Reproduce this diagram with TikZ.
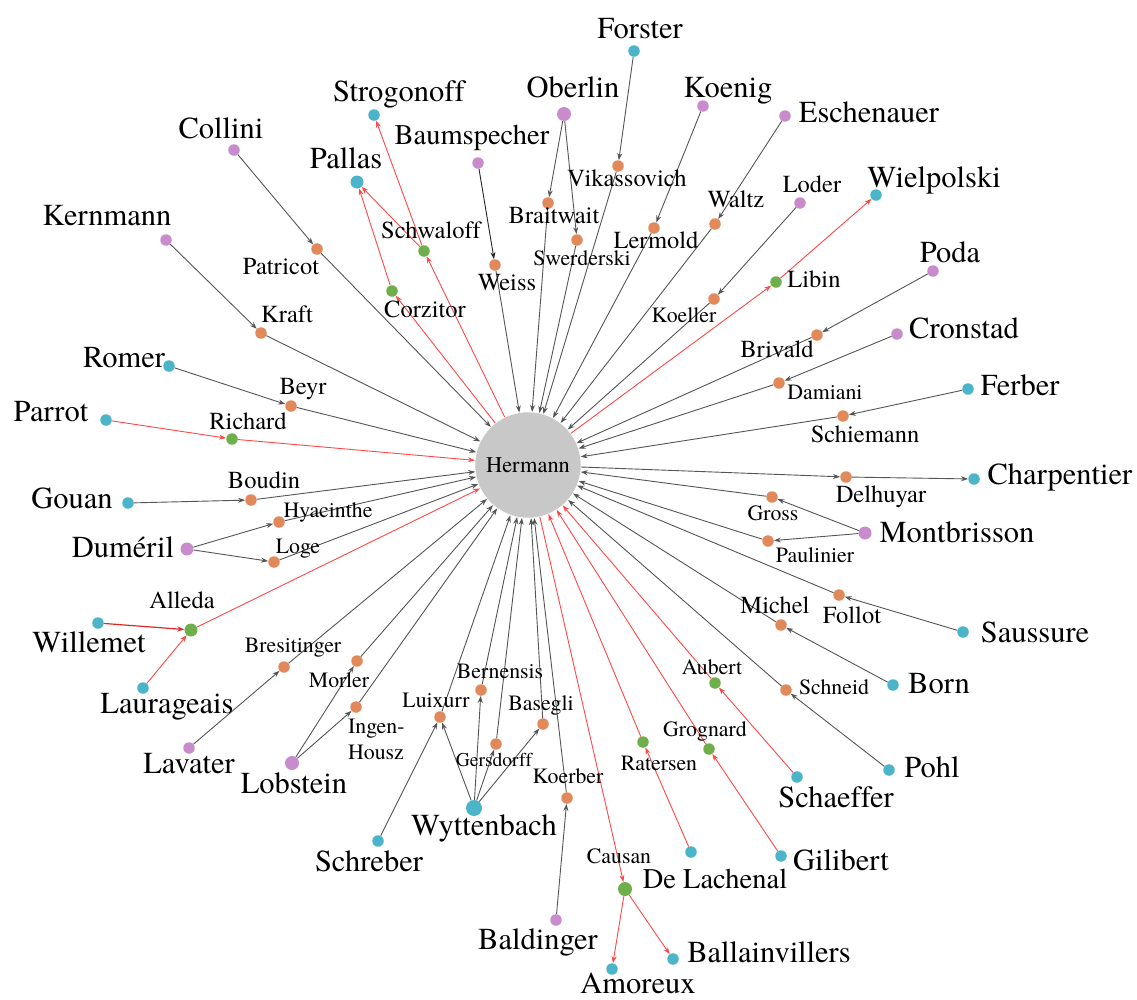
\documentclass[tikz,border=0pt]{standalone}
\usepackage{fontspec}
\setmainfont{texgyretermes-regular.otf}
\newfontfamily\lserif{texgyretermes-regular.otf}[Ligatures=NoCommon]
\usetikzlibrary{arrows.meta}
\definecolor{cteal}{HTML}{4BB4C8}
\definecolor{cpurple}{HTML}{C88CCD}
\definecolor{corange}{HTML}{E1895A}
\definecolor{cgreen}{HTML}{6EAF4B}
\definecolor{chub}{HTML}{C8C8C8}
\definecolor{edgegray}{HTML}{555555}
\definecolor{edgered}{HTML}{FF4848}
\definecolor{edgedred}{HTML}{E02828}
\tikzset{
  dot/.style={circle, inner sep=0pt, minimum size=11.5pt, draw=none},
  tdot/.style={dot, fill=cteal},
  pdot/.style={dot, fill=cpurple},
  odot/.style={dot, fill=corange},
  gdot/.style={dot, fill=cgreen},
  hub/.style={circle, inner sep=0pt, minimum size=106pt, fill=chub, draw=white, line width=0.5pt, font=\lserif\fontsize{22.4pt}{26pt}\selectfont},
  bigl/.style={anchor=base, inner sep=0pt, font=\lserif\fontsize{30.5pt}{34pt}\selectfont},
  bigs/.style={anchor=base, inner sep=0pt, font=\lserif\fontsize{28.5pt}{32pt}\selectfont},
  medl/.style={anchor=base, inner sep=0pt, font=\lserif\fontsize{24.5pt}{28pt}\selectfont},
  smal/.style={anchor=base, inner sep=0pt, font=\lserif\fontsize{21.8pt}{25pt}\selectfont},
  tinl/.style={anchor=base, inner sep=0pt, font=\lserif\fontsize{19.5pt}{23pt}\selectfont},
  ge/.style={draw=edgegray, line width=0.9pt, -{Stealth[length=7pt,width=5pt]}},
  re/.style={draw=edgered, line width=0.9pt, -{Stealth[length=7pt,width=5pt]}},
}
\begin{document}
\begin{tikzpicture}[x=1pt,y=-1pt]
\useasboundingbox[fill=white] (0,0) rectangle (1137,999);

% hub
\node[hub] (hermann) at (528,465) {Hermann};

% teal nodes
\node[tdot] (strogonoff) at (374,115) {};
\node[tdot, minimum size=13pt] (pallas) at (357,182) {};
\node[tdot] (forster) at (634,51) {};
\node[tdot] (wielpolski) at (876,195) {};
\node[tdot] (ferber) at (968,389) {};
\node[tdot] (romer) at (169,366) {};
\node[tdot] (parrot) at (106,420) {};
\node[tdot] (gouan) at (128,503) {};
\node[tdot] (charpentier) at (974,479) {};
\node[tdot] (willemet) at (98,623) {};
\node[tdot] (saussure) at (963,632) {};
\node[tdot] (laurageais) at (143,688) {};
\node[tdot] (born) at (893,685) {};
\node[tdot] (pohl) at (889,770) {};
\node[tdot] (schaeffer) at (797,777) {};
\node[tdot] (schreber) at (378,841) {};
\node[tdot, minimum size=16pt] (wyttenbach) at (474,808) {};
\node[tdot] (delachenal) at (691,852) {};
\node[tdot] (gilibert) at (781,856) {};
\node[tdot] (amoreux) at (612,969) {};
\node[tdot] (ballainvillers) at (673,959) {};

% purple nodes
\node[pdot] (collini) at (234,150) {};
\node[pdot] (kernmann) at (166,240) {};
\node[pdot, minimum size=14pt] (oberlin) at (564,114) {};
\node[pdot] (koenig) at (703,106) {};
\node[pdot] (baumspecher) at (478,163) {};
\node[pdot] (eschenauer) at (785,116) {};
\node[pdot] (loder) at (800,203) {};
\node[pdot] (poda) at (933,271) {};
\node[pdot] (cronstad) at (897,334) {};
\node[pdot, minimum size=13pt] (dumeril) at (187,549) {};
\node[pdot, minimum size=13pt] (montbrisson) at (865,533) {};
\node[pdot] (lavater) at (189,748) {};
\node[pdot, minimum size=14pt] (lobstein) at (292,763) {};
\node[pdot] (baldinger) at (556,920) {};

% orange nodes
\node[odot] (patricot) at (317,249) {};
\node[odot] (kraft) at (261,333) {};
\node[odot] (vikassovich) at (618,166) {};
\node[odot] (braitwait) at (548,203) {};
\node[odot] (swerderski) at (577,240) {};
\node[odot] (lermold) at (654,228) {};
\node[odot] (waltz) at (715,224) {};
\node[odot] (weiss) at (495,265) {};
\node[odot] (koeller) at (714,299) {};
\node[odot] (brivald) at (817,335) {};
\node[odot] (damiani) at (779,383) {};
\node[odot] (schiemann) at (843,416) {};
\node[odot] (delhuyar) at (846,477) {};
\node[odot] (gross) at (772,497) {};
\node[odot] (paulinier) at (768,541) {};
\node[odot] (follot) at (839,595) {};
\node[odot] (michel) at (781,625) {};
\node[odot] (schneid) at (786,690) {};
\node[odot] (beyr) at (291,406) {};
\node[odot] (boudin) at (251,500) {};
\node[odot] (hyacinthe) at (279,522) {};
\node[odot] (loge) at (274,562) {};
\node[odot] (bresitinger) at (284,667) {};
\node[odot] (morler) at (357,661) {};
\node[odot] (ingen) at (356,707) {};
\node[odot] (luixurr) at (440,717) {};
\node[odot] (bernensis) at (481,690) {};
\node[odot] (basegli) at (543,724) {};
\node[odot] (gersdorff) at (496,744) {};
\node[odot] (koerber) at (567,798) {};

% green nodes
\node[gdot] (schwaloff) at (424,251) {};
\node[gdot] (corzitor) at (392,291) {};
\node[gdot] (libin) at (776,282) {};
\node[gdot] (richard) at (232,439) {};
\node[gdot, minimum size=13pt] (alleda) at (191,630) {};
\node[gdot] (aubert) at (715,683) {};
\node[gdot] (grognard) at (709,749) {};
\node[gdot] (ratersen) at (643,742) {};
\node[gdot, minimum size=14pt] (causan) at (625,889) {};

% gray edges
\draw[ge] (collini) -- (patricot);
\draw[ge] (patricot) -- (hermann);
\draw[ge] (kernmann) -- (kraft);
\draw[ge] (kraft) -- (hermann);
\draw[ge] (romer) -- (beyr);
\draw[ge] (beyr) -- (hermann);
\draw[ge] (gouan) -- (boudin);
\draw[ge] (boudin) -- (hermann);
\draw[ge] (dumeril) -- (hyacinthe);
\draw[ge] (dumeril) -- (loge);
\draw[ge] (hyacinthe) -- (hermann);
\draw[ge] (loge) -- (hermann);
\draw[ge] (lavater) -- (bresitinger);
\draw[ge] (bresitinger) -- (hermann);
\draw[ge] (lobstein) -- (morler);
\draw[ge] (lobstein) -- (ingen);
\draw[ge] (morler) -- (hermann);
\draw[ge] (ingen) -- (hermann);
\draw[ge] (schreber) -- (luixurr);
\draw[ge] (wyttenbach) -- (luixurr);
\draw[ge] (luixurr) -- (hermann);
\draw[ge] (wyttenbach) -- (bernensis);
\draw[ge] (bernensis) -- (hermann);
\draw[ge] (wyttenbach) -- (gersdorff);
\draw[ge] (gersdorff) -- (hermann);
\draw[ge] (wyttenbach) -- (basegli);
\draw[ge] (basegli) -- (hermann);
\draw[ge] (baldinger) -- (koerber);
\draw[ge] (koerber) -- (hermann);
\draw[ge] (born) -- (michel);
\draw[ge] (michel) -- (hermann);
\draw[ge] (pohl) -- (schneid);
\draw[ge] (schneid) -- (hermann);
\draw[ge] (saussure) -- (follot);
\draw[ge] (follot) -- (hermann);
\draw[ge] (montbrisson) -- (gross);
\draw[ge] (montbrisson) -- (paulinier);
\draw[ge] (gross) -- (hermann);
\draw[ge] (paulinier) -- (hermann);
\draw[ge] (hermann) -- (delhuyar);
\draw[ge] (delhuyar) -- (charpentier);
\draw[ge] (ferber) -- (schiemann);
\draw[ge] (schiemann) -- (hermann);
\draw[ge] (cronstad) -- (damiani);
\draw[ge] (damiani) -- (hermann);
\draw[ge] (poda) -- (brivald);
\draw[ge] (brivald) -- (hermann);
\draw[ge] (loder) -- (koeller);
\draw[ge] (koeller) -- (hermann);
\draw[ge] (eschenauer) -- (waltz);
\draw[ge] (waltz) -- (hermann);
\draw[ge] (koenig) -- (lermold);
\draw[ge] (lermold) -- (hermann);
\draw[ge] (forster) -- (vikassovich);
\draw[ge] (vikassovich) -- (hermann);
\draw[ge] (oberlin) -- (braitwait);
\draw[ge] (oberlin) -- (swerderski);
\draw[ge] (braitwait) -- (hermann);
\draw[ge] (swerderski) -- (hermann);
\draw[ge, draw=black!85] (baumspecher) -- (weiss);
\draw[ge] (weiss) -- (hermann);

% red edges
\draw[re] (hermann) -- (corzitor);
\draw[re] (hermann) -- (schwaloff);
\draw[re] (corzitor) -- (pallas);
\draw[re] (schwaloff) -- (pallas);
\draw[re] (schwaloff) -- (strogonoff);
\draw[re] (hermann) -- (libin);
\draw[re] (libin) -- (wielpolski);
\draw[re] (parrot) -- (richard);
\draw[re] (richard) -- (hermann);
\draw[re, draw=edgedred, line width=1.2pt] (willemet) -- (alleda);
\draw[re] (laurageais) -- (alleda);
\draw[re] (alleda) -- (hermann);
\draw[re] (schaeffer) -- (aubert);
\draw[re] (aubert) -- (hermann);
\draw[re] (gilibert) -- (grognard);
\draw[re] (grognard) -- (hermann);
\draw[re] (delachenal) -- (ratersen);
\draw[re] (ratersen) -- (hermann);
\draw[re] (hermann) -- (causan);
\draw[re] (causan) -- (amoreux);
\draw[re] (causan) -- (ballainvillers);

% big labels
\node[bigl] (forsterL) at (640,38) {Forster};
\node[bigl] (oberlinL) at (573,97) {Oberlin};
\node[bigl] (koenigL) at (728,97) {Koenig};
\node[bigl] (eschenauerL) at (869,122) {Eschenauer};
\node[bigl] (strogonoffL) at (399,101) {Strogonoff};
\node[bigl] (colliniL) at (221,138) {Collini};
\node[bigl] (pallasL) at (346,168) {Pallas};
\node[bigs] (baumspecherL) at (472,144) {Baumspecher};
\node[bigl] (kernmannL) at (107,225) {Kernmann};
\node[bigl] (wielpolskiL) at (934,187) {Wielpolski};
\node[bigl] (podaL) at (950,262) {Poda};
\node[bigl] (cronstadL) at (964,338) {Cronstad};
\node[bigl] (ferberL) at (1020,395) {Ferber};
\node[bigl] (romerL) at (124,367) {Romer};
\node[bigl] (parrotL) at (51,421) {Parrot};
\node[bigl] (gouanL) at (72,508) {Gouan};
\node[bigl] (dumerilL) at (123,557) {Duméril};
\node[bigl] (willemetL) at (89,652) {Willemet};
\node[bigl] (laurageaisL) at (167,713) {Laurageais};
\node[bigl] (lavaterL) at (189,773) {Lavater};
\node[bigl] (lobsteinL) at (294,793) {Lobstein};
\node[bigl] (schreberL) at (369,871) {Schreber};
\node[bigl] (wyttenbachL) at (484,835) {Wyttenbach};
\node[bigl] (baldingerL) at (538,949) {Baldinger};
\node[bigl] (amoreuxL) at (638,993) {Amoreux};
\node[bigl] (ballainvillersL) at (769,962) {Ballainvillers};
\node[bigs] (delachenalL) at (715,888) {De Lachenal};
\node[bigl] (gilibertL) at (841,870) {Gilibert};
\node[bigl] (schaefferL) at (836,807) {Schaeffer};
\node[bigl] (pohlL) at (932,777) {Pohl};
\node[bigl] (bornL) at (939,693) {Born};
\node[bigl] (saussureL) at (1035,642) {Saussure};
\node[bigl] (montbrissonL) at (957,542) {Montbrisson};
\node[bigl] (charpentierL) at (1060,484) {Charpentier};

% medium labels
\node[medl] (patricotL) at (281,274) {Patricot};
\node[medl] (kraftL) at (287,322) {Kraft};
\node[medl] (vikassovichL) at (627,186) {Vikassovich};
\node[medl] (braitwaitL) at (554,223) {Braitwait};
\node[medl] (lermoldL) at (656,248) {Lermold};
\node[medl] (waltzL) at (736,207) {Waltz};
\node[medl] (loderL) at (812,192) {Loder};
\node[medl] (libinL) at (814,287) {Libin};
\node[medl] (weissL) at (507,290) {Weiss};
\node[medl] (schwaloffL) at (431,238) {Schwaloff};
\node[medl] (corzitorL) at (425,317) {Corzitor};
\node[medl] (brivaldL) at (777,357) {Brivald};
\node[medl] (schiemannL) at (865,442) {Schiemann};
\node[medl] (delhuyarL) at (881,502) {Delhuyar};
\node[medl] (follotL) at (852,623) {Follot};
\node[medl] (michelL) at (775,613) {Michel};
\node[medl] (beyrL) at (303,394) {Beyr};
\node[medl] (richardL) at (248,429) {Richard};
\node[medl] (boudinL) at (264,488) {Boudin};
\node[medl] (alledaL) at (182,608) {Alleda};

% small labels
\node[smal] (swerderskiL) at (582,265) {Swerderski};
\node[smal] (koellerL) at (684,322) {Koeller};
\node[smal] (damianiL) at (825,399) {Damiani};
\node[smal] (grossL) at (773,520) {Gross};
\node[smal] (paulinierL) at (815,562) {Paulinier};
\node[smal] (hyacintheL) at (328,517) {Hyacinthe};
\node[smal] (logeL) at (298,553) {Loge};
\node[smal] (bresitingerL) at (293,652) {Bresitinger};
\node[smal] (morlerL) at (339,687) {Morler};
\node[smal, anchor=base west] (ingenL) at (348,733) {Ingen-};
\node[smal, anchor=base west] (houszL) at (348,759) {Housz};
\node[smal] (luixurrL) at (436,707) {Luixurr};
\node[smal] (bernensisL) at (500,678) {Bernensis};
\node[smal] (basegliL) at (541,710) {Basegli};
\node[tinl] (gersdorffL) at (494,766) {Gersdorff};
\node[smal] (koerberL) at (568,783) {Koerber};
\node[smal] (causanL) at (619,863) {Causan};
\node[smal] (ratersenL) at (659,770) {Ratersen};
\node[smal] (grognardL) at (705,736) {Grognard};
\node[smal] (aubertL) at (712,674) {Aubert};
\node[smal] (schneidL) at (834,694) {Schneid};
\end{tikzpicture}
\end{document}
